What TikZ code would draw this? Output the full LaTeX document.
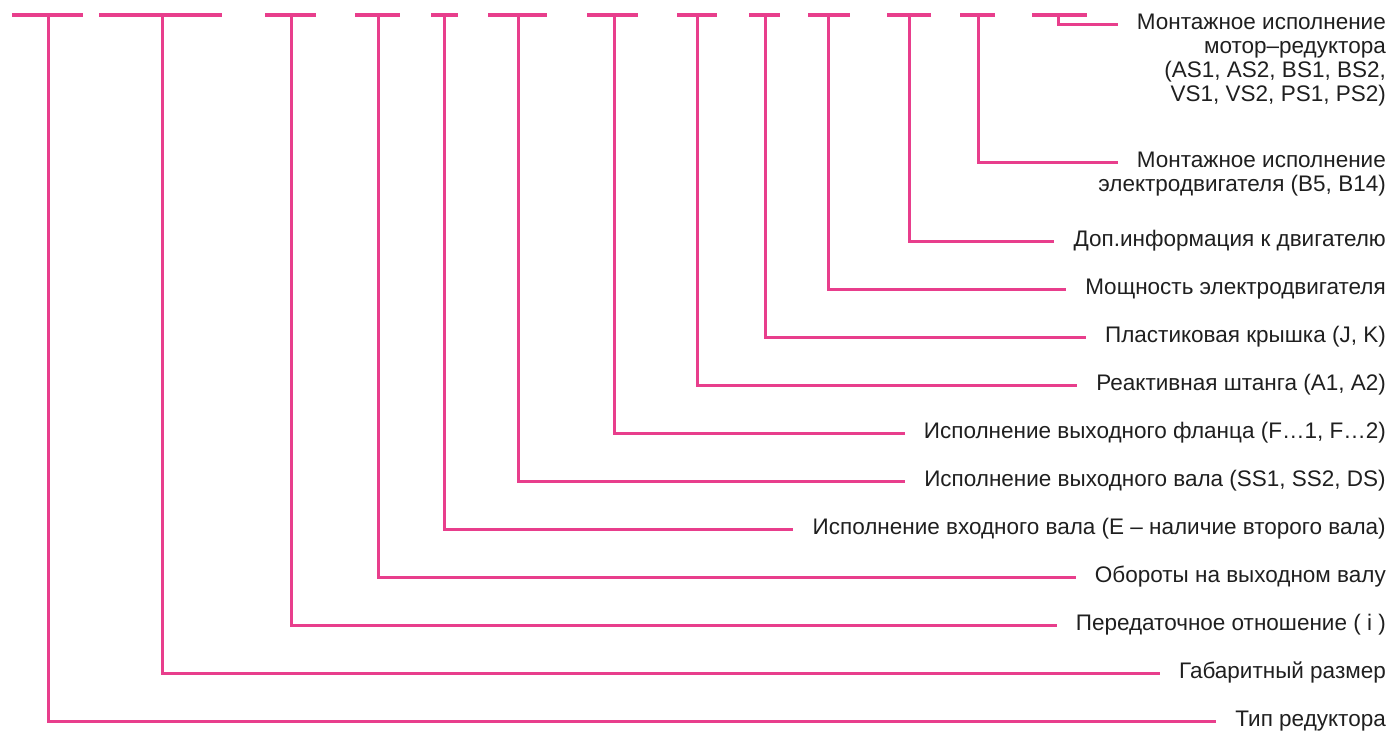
\documentclass[tikz,border=0pt]{standalone}
\usepackage{fontspec}
\setmainfont{Liberation Sans}
\usetikzlibrary{calc}
\definecolor{pk}{RGB}{232,62,140}
\begin{document}
\begin{tikzpicture}[x=1pt,y=-1pt,
  lbl/.style={anchor=east, inner sep=0pt, text height=16pt, text depth=5pt, font=\fontsize{22.5}{26}\selectfont, text=black!88},
  conn/.style={draw=pk, line width=3pt, shorten >=19pt},
  bar/.style={draw=pk, line width=4pt}]
\useasboundingbox (0,0) rectangle (1391,732);
% labels
\node[lbl] (m1) at (1386,24) {Монтажное исполнение};
\node[lbl] (m2) at (1386,48) {мотор–редуктора};
\node[lbl] (m3) at (1386,72) {(AS1, AS2, BS1, BS2,};
\node[lbl] (m4) at (1386,96) {VS1, VS2, PS1, PS2)};
\node[lbl] (e1) at (1386,162) {Монтажное исполнение};
\node[lbl] (e2) at (1386,186) {электродвигателя (B5, B14)};
\node[lbl] (l11) at (1386,241) {Доп.информация к двигателю};
\node[lbl] (l10) at (1386,289) {Мощность электродвигателя};
\node[lbl] (l9) at (1386,337) {Пластиковая крышка (J, K)};
\node[lbl] (l8) at (1386,385) {Реактивная штанга (A1, A2)};
\node[lbl] (l7) at (1386,433) {Исполнение выходного фланца (F…1, F…2)};
\node[lbl] (l6) at (1386,481) {Исполнение выходного вала (SS1, SS2, DS)};
\node[lbl] (l5) at (1386,529) {Исполнение входного вала (Е – наличие второго вала)};
\node[lbl] (l4) at (1386,577) {Обороты на выходном валу};
\node[lbl] (l3) at (1386,625) {Передаточное отношение ( i )};
\node[lbl] (l2) at (1386,673) {Габаритный размер};
\node[lbl] (l1) at (1386,721) {Тип редуктора};
% top bars
\foreach \a/\b in {12/83, 99/222, 265/316, 355/400, 431/458, 488/547, 587/638, 677/717, 749/780, 808/850, 887/931, 960/995, 1032/1087}
  \draw[bar] (\a,15) -- (\b,15);
% stem tops
\coordinate (s1) at (48,15);
\coordinate (s2) at (162,15);
\coordinate (s3) at (291,15);
\coordinate (s4) at (378,15);
\coordinate (s5) at (444,15);
\coordinate (s6) at (518,15);
\coordinate (s7) at (614,15);
\coordinate (s8) at (697,15);
\coordinate (s9) at (765,15);
\coordinate (s10) at (828,15);
\coordinate (s11) at (909,15);
\coordinate (s12) at (978,15);
\coordinate (s13) at (1058,15);
% connectors
\draw[conn] (s1) |- (l1.west);
\draw[conn] (s2) |- (l2.west);
\draw[conn] (s3) |- (l3.west);
\draw[conn] (s4) |- (l4.west);
\draw[conn] (s5) |- (l5.west);
\draw[conn] (s6) |- (l6.west);
\draw[conn] (s7) |- (l7.west);
\draw[conn] (s8) |- (l8.west);
\draw[conn] (s9) |- (l9.west);
\draw[conn] (s10) |- (l10.west);
\draw[conn] (s11) |- (l11.west);
\draw[conn] (s12) |- (e1.west);
\draw[conn] (s13) |- (m1.west);
\end{tikzpicture}
\end{document}
